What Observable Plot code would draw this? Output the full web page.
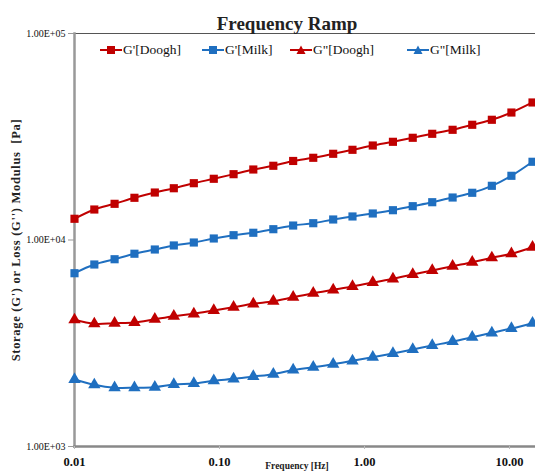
<!DOCTYPE html>
<html>
<head>
<meta charset="utf-8">
<script src="https://cdn.jsdelivr.net/npm/d3@7"></script>
<script src="https://cdn.jsdelivr.net/npm/@observablehq/plot@0.6"></script>
<style>
  html, body { margin: 0; padding: 0; background: #fff; }
  #wrap { position: relative; width: 535px; height: 472px; overflow: hidden; }
  .item { position: absolute; top: 42px; display: flex; align-items: center;
    font-family: "Liberation Serif", "Times New Roman", serif; font-size: 13.5px; color: #111; white-space: nowrap; }
  .item svg { margin-right: 1px; }
  .ylab text { letter-spacing: 0.7px; }
</style>
</head>
<body>
<div id="wrap"></div>
<script>
const freq = [0.0100, 0.0137, 0.0189, 0.0259, 0.0358, 0.0484, 0.0665, 0.0913, 0.125, 0.171, 0.235, 0.322,
              0.443, 0.608, 0.826, 1.14, 1.57, 2.15, 2.93, 4.05, 5.53, 7.55, 10.3, 14.4];
const gpDough  = [12670, 14050, 14970, 16010, 16980, 17810, 18840, 19790, 20830, 21950, 22880, 24140,
                  25010, 26150, 27340, 28680, 29890, 31260, 32680, 34170, 36140, 38210, 41430, 46340];
const gpMilk   = [6905, 7610, 8070, 8580, 8995, 9410, 9725, 10170, 10550, 10840, 11280, 11750,
                  12060, 12570, 13000, 13440, 13940, 14580, 15240, 16060, 16930, 18300, 20460, 23920];
const gppDough = [4108, 3929, 3955, 3986, 4135, 4276, 4391, 4556, 4727, 4909, 5053, 5284,
                  5525, 5738, 5953, 6225, 6487, 6806, 7116, 7465, 7806, 8200, 8576, 9229];
const gppMilk  = [2111, 1990, 1925, 1925, 1938, 1996, 2019, 2081, 2127, 2183, 2239, 2347,
                  2421, 2503, 2600, 2706, 2820, 2949, 3083, 3224, 3382, 3552, 3727, 3955];
const seriesNames = ["G'[Doogh]", "G'[Milk]", "G\"[Doogh]", "G\"[Milk]"];
const seriesValues = [gpDough, gpMilk, gppDough, gppMilk];
const seriesColors = ["#C00000", "#1F6FC0", "#C00000", "#1F6FC0"];
const seriesSymbols = ["square", "square", "triangle", "triangle"];
const yTicks = [1000, 10000, 100000];
const xTicks = [0.01, 0.1, 1, 10];
const titleText = "Frequency Ramp";
const xLabel = "Frequency [Hz]";
const yLabel = "Storage (G') or Loss (G'') Modulus  [Pa]";
const legendLeft = [100, 202, 290, 407];

const rows = [];
seriesNames.forEach((name, i) => {
  freq.forEach((f, j) => rows.push({series: name, f, v: seriesValues[i][j]}));
});

const serif = "'Liberation Serif', 'Times New Roman', serif";
const expFmt = v => {
  const e = Math.round(Math.log10(v));
  return "1.00E+" + String(e).padStart(2, "0");
};

const chart = Plot.plot({
  width: 535,
  height: 472,
  marginLeft: 74,
  marginRight: 0,
  marginTop: 33,
  marginBottom: 26,
  style: {fontFamily: serif, background: "#fff", color: "#111"},
  x: {type: "log", domain: [0.01, 15.1]},
  y: {type: "log", domain: [1000, 100000]},
  color: {domain: seriesNames, range: seriesColors},
  symbol: {domain: seriesNames, range: seriesSymbols},
  marks: [
    Plot.frame({anchor: "top", stroke: "#555", strokeWidth: 1.2}),
    Plot.frame({anchor: "left", stroke: "#999", strokeWidth: 2.5}),
    Plot.frame({anchor: "bottom", stroke: "#888", strokeWidth: 2.5}),
    Plot.axisY({ticks: yTicks, tickFormat: expFmt, tickSize: 6, tickPadding: 3, fontSize: 10, label: null, stroke: "#999"}),
    Plot.axisX({ticks: xTicks, tickFormat: d3.format(".2f"), tickSize: 3, tickPadding: 8, fontSize: 12.5, fontWeight: "bold", label: null, stroke: "#bbb"}),
    Plot.line(rows, {x: "f", y: "v", z: "series", stroke: "series", strokeWidth: 2, curve: "catmull-rom"}),
    Plot.dot(rows, {x: "f", y: "v", fill: "series", symbol: "series", r: 4.6, stroke: "none"}),
    Plot.text([titleText], {frameAnchor: "top", lineAnchor: "middle", dx: -18, dy: -10, fontSize: 19, fontWeight: "bold", fill: "#222"}),
    Plot.text([xLabel], {frameAnchor: "bottom", lineAnchor: "middle", dx: -8, dy: 19, fontSize: 9.5, fontWeight: "bold", fill: "#222"}),
    Plot.text([yLabel], {frameAnchor: "left", textAnchor: "middle", lineAnchor: "middle", dx: -59, rotate: -90, fontSize: 12.5, fontWeight: "bold", fill: "#222", className: "ylab"})
  ]
});
const wrap = document.getElementById("wrap");
wrap.appendChild(chart);

seriesNames.forEach((name, i) => {
  const item = document.createElement("div");
  item.className = "item";
  item.style.left = legendLeft[i] + "px";
  const sym = seriesSymbols[i] === "square"
    ? `<rect x="7" y="3" width="8" height="8" fill="${seriesColors[i]}"/>`
    : `<path d="M11,2.5 L15.5,11 L6.5,11 Z" fill="${seriesColors[i]}"/>`;
  item.innerHTML = `<svg width="22" height="14"><line x1="0" x2="22" y1="7" y2="7" stroke="${seriesColors[i]}" stroke-width="2"/>${sym}</svg><span>${name}</span>`;
  wrap.appendChild(item);
});
</script>
</body>
</html>
